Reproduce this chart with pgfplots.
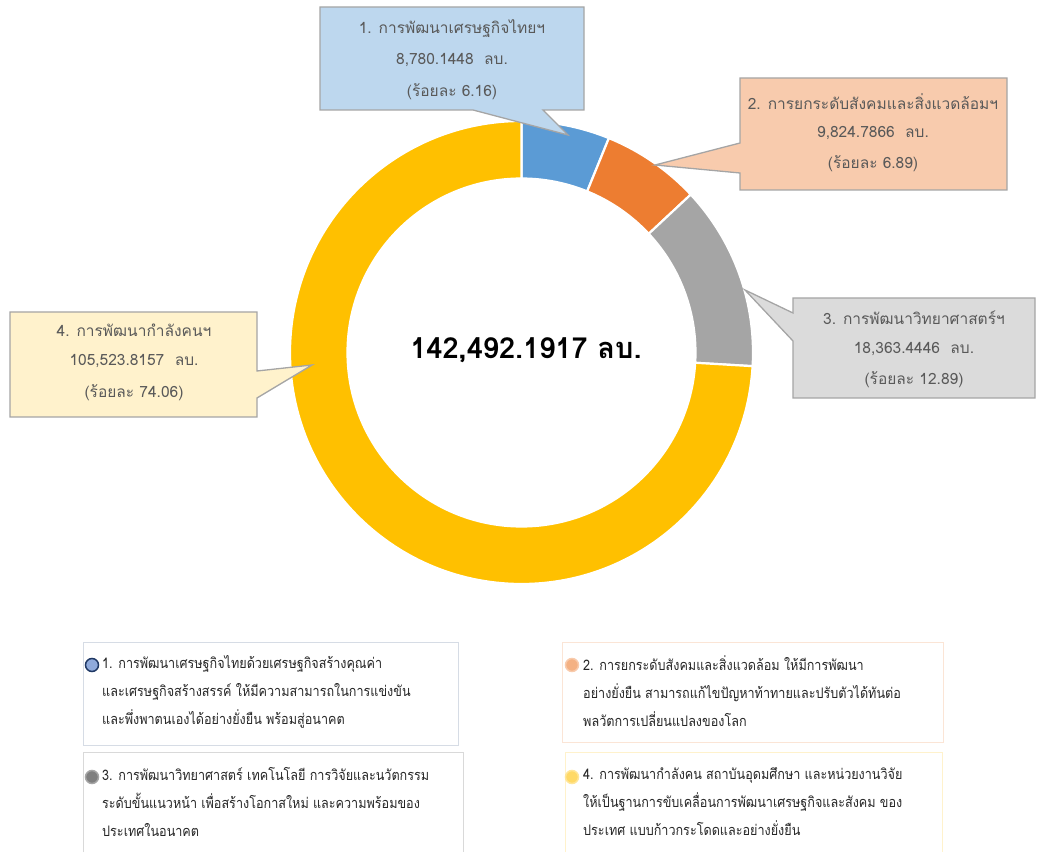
\documentclass[border=0pt]{standalone}
\usepackage{pgfplots}
\pgfplotsset{compat=1.18}
\usepackage{pgfplotstable}
\usepackage{fontspec}
\setmainfont[Script=Thai]{Loma}
\newfontfamily\legfont[Script=Thai, FakeStretch=0.87]{Loma}

\definecolor{sBlue}{HTML}{5B9BD5}
\definecolor{sOrange}{HTML}{ED7D31}
\definecolor{sGray}{HTML}{A5A5A5}
\definecolor{sYellow}{HTML}{FFC000}
\definecolor{cBlue}{HTML}{BDD7EE}
\definecolor{cOrange}{HTML}{F8CBAD}
\definecolor{cGray}{HTML}{DBDBDB}
\definecolor{cYellow}{HTML}{FFF2CC}
\definecolor{cEdge}{HTML}{A5A5A5}
\definecolor{txtGray}{HTML}{595959}
\definecolor{txtDark}{HTML}{262626}

% budget per strategy (million baht), percent of total
\pgfplotstableread{
id value pct
1 8780.1448 6.16
2 9824.7866 6.89
3 18363.4446 12.89
4 105523.8157 74.06
}\donutdata

\begin{document}
\begin{tikzpicture}
\begin{axis}[
    x=1pt, y=1pt,
    xmin=0, xmax=1044, ymin=0, ymax=852,
    hide axis, clip=false,
]
\path (axis cs:0,0) rectangle (axis cs:1044,852);

% donut slices, clockwise from the top
\def\startang{90}
\pgfplotsforeachungrouped \i in {0,...,3}{
  \pgfplotstablegetelem{\i}{pct}\of\donutdata
  \pgfmathsetmacro\endang{\startang-3.6*\pgfplotsretval}
  \ifcase\i \def\slc{sBlue}\or \def\slc{sOrange}\or \def\slc{sGray}\or \def\slc{sYellow}\fi
  \edef\temp{\noexpand\filldraw[fill=\slc, draw=white, line width=2.2pt,
      shift={(axis cs:521.5,499.5)}]
    (\startang:231.5pt) arc[start angle=\startang, end angle=\endang, radius=231.5pt]
    -- (\endang:174pt) arc[start angle=\endang, end angle=\startang, radius=174pt] -- cycle;}
  \temp
  \global\let\startang\endang
}

% callouts
\draw[cEdge, fill=cBlue, line width=1.3pt] (axis cs:320,845) -- (axis cs:584,845) -- (axis cs:584,742)
  -- (axis cs:543,742) -- (axis cs:568,717) -- (axis cs:473,742) -- (axis cs:320,742) -- cycle;
\draw[cEdge, fill=cOrange, line width=1.3pt] (axis cs:740,774) -- (axis cs:1007,774) -- (axis cs:1007,662)
  -- (axis cs:740,662) -- (axis cs:740,679) -- (axis cs:655,687) -- (axis cs:740,709) -- cycle;
\draw[cEdge, fill=cGray, line width=1.3pt] (axis cs:793,554) -- (axis cs:1035,554) -- (axis cs:1035,454)
  -- (axis cs:793,454) -- (axis cs:793,511) -- (axis cs:745,562) -- (axis cs:793,539) -- cycle;
\draw[cEdge, fill=cYellow, line width=1.3pt] (axis cs:10,540) -- (axis cs:257,540) -- (axis cs:257,481)
  -- (axis cs:312,487) -- (axis cs:257,454) -- (axis cs:257,435) -- (axis cs:10,435) -- cycle;

\begin{scope}[every node/.style={text=txtGray, font=\fontsize{15.5}{18}\selectfont}]
\node at (axis cs:452,823) {1. การพัฒนาเศรษฐกิจไทยฯ};
\node at (axis cs:452,792) {8,780.1448 ~ลบ.};
\node at (axis cs:452,760) {(ร้อยละ 6.16)};
\node at (axis cs:873,750) {2. การยกระดับสังคมและสิ่งแวดล้อมฯ};
\node at (axis cs:873,719) {9,824.7866 ~ลบ.};
\node at (axis cs:873,688) {(ร้อยละ 6.89)};
\node at (axis cs:914,534) {3. การพัฒนาวิทยาศาสตร์ฯ};
\node at (axis cs:914,503) {18,363.4446 ~ลบ.};
\node at (axis cs:914,472) {(ร้อยละ 12.89)};
\node at (axis cs:134,522) {4. การพัฒนากำลังคนฯ};
\node at (axis cs:134,491) {105,523.8157 ~ลบ.};
\node at (axis cs:134,459) {(ร้อยละ 74.06)};
\end{scope}

\node[font=\fontsize{29}{34}\selectfont\bfseries, text=black] at (axis cs:526,502) {142,492.1917 ลบ.};

% legend boxes
\draw[draw={rgb,255:red,214;green,220;blue,229}, line width=1pt] (axis cs:83,210) rectangle (axis cs:458,107);
\draw[draw={rgb,255:red,251;green,229;blue,214}, line width=1pt] (axis cs:562,210) rectangle (axis cs:943,110);
\draw[draw={rgb,255:red,217;green,217;blue,217}, line width=1pt] (axis cs:83,0) -- (axis cs:83,100) -- (axis cs:463,100) -- (axis cs:463,0);
\draw[draw={rgb,255:red,255;green,242;blue,204}, line width=1pt] (axis cs:565,0) -- (axis cs:565,100) -- (axis cs:942,100) -- (axis cs:942,0);

\filldraw[fill={rgb,255:red,143;green,170;blue,220}, draw={rgb,255:red,31;green,56;blue,100}, line width=1.5pt] (axis cs:92,187) circle[radius=6.5pt];
\filldraw[fill={rgb,255:red,244;green,177;blue,131}, draw={rgb,255:red,248;green,203;blue,173}, line width=1.5pt] (axis cs:572,187) circle[radius=6.5pt];
\filldraw[fill={rgb,255:red,127;green,127;blue,127}, draw={rgb,255:red,166;green,166;blue,166}, line width=1.5pt] (axis cs:92,75) circle[radius=6.5pt];
\filldraw[fill={rgb,255:red,255;green,217;blue,102}, draw={rgb,255:red,255;green,230;blue,153}, line width=1.5pt] (axis cs:572,75) circle[radius=6.5pt];

\begin{scope}[every node/.style={text=txtDark, font=\legfont\fontsize{14.5}{28}\selectfont, align=left, anchor=north west, inner sep=0pt}]
\node at (axis cs:102,197) {1. การพัฒนาเศรษฐกิจไทยด้วยเศรษฐกิจสร้างคุณค่า\\และเศรษฐกิจสร้างสรรค์ ให้มีความสามารถในการแข่งขัน\\และพึ่งพาตนเองได้อย่างยั่งยืน พร้อมสู่อนาคต};
\node at (axis cs:583,197) {2. การยกระดับสังคมและสิ่งแวดล้อม ให้มีการพัฒนา\\อย่างยั่งยืน สามารถแก้ไขปัญหาท้าทายและปรับตัวได้ทันต่อ\\พลวัตการเปลี่ยนแปลงของโลก};
\node at (axis cs:102,85) {3. การพัฒนาวิทยาศาสตร์ เทคโนโลยี การวิจัยและนวัตกรรม\\ระดับขั้นแนวหน้า เพื่อสร้างโอกาสใหม่ และความพร้อมของ\\ประเทศในอนาคต};
\node at (axis cs:583,85) {4. การพัฒนากำลังคน สถาบันอุดมศึกษา และหน่วยงานวิจัย\\ให้เป็นฐานการขับเคลื่อนการพัฒนาเศรษฐกิจและสังคม ของ\\ประเทศ แบบก้าวกระโดดและอย่างยั่งยืน};
\end{scope}
\end{axis}
\end{tikzpicture}
\end{document}
